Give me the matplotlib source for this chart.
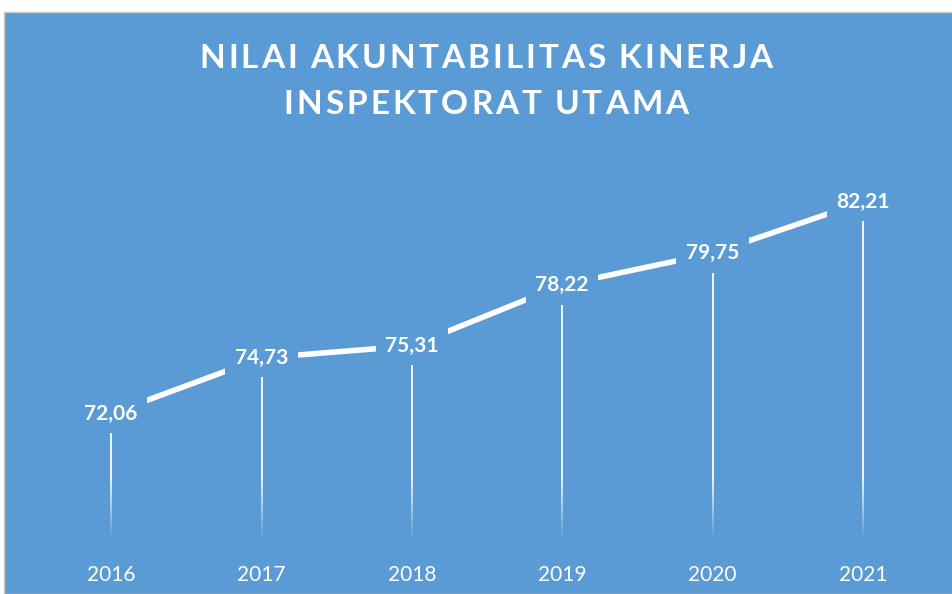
import numpy as np
import matplotlib
matplotlib.use("Agg")
import matplotlib.pyplot as plt
from matplotlib.patches import Rectangle

# data
years = ["2016", "2017", "2018", "2019", "2020", "2021"]
values = [72.06, 74.73, 75.31, 78.22, 79.75, 82.21]
labels = ["72,06", "74,73", "75,31", "78,22", "79,75", "82,21"]
title_lines = ["NILAI AKUNTABILITAS KINERJA", "INSPEKTORAT UTAMA"]

BLUE = "#5b9bd5"
W, H = 952, 594

plt.rcParams["font.family"] = ["Lato", "DejaVu Sans"]

fig = plt.figure(figsize=(W / 100, H / 100), dpi=100)
fig.patch.set_facecolor("white")

# blue chart area, offset slightly from the top-left like the screenshot
fig.patches.append(Rectangle((4 / W, 0), 1, (H - 12) / H, transform=fig.transFigure,
                             facecolor=BLUE, edgecolor="#c8c8c8", linewidth=1.0, zorder=-10))

ax = fig.add_axes([36 / W, (H - 540) / H, 902 / W, (540 - 164.6) / H])
ax.set_facecolor("none")
x = np.arange(len(years))
ymin, ymax = 66, 84
ax.set_xlim(-0.5, len(years) - 0.5)
ax.set_ylim(ymin, ymax)

# drop lines: white, fading out toward the bottom (gradient image per line)
half_w = 1.0 / 150.4  # ~1px each side in data units
for xi, v in zip(x, values):
    ys = np.linspace(ymin, v, 200)
    a = np.clip((ys - ymin) / 3.0, 0, 1) * 0.9
    img = np.ones((len(ys), 1, 4))
    img[:, 0, 3] = a
    ax.imshow(img, extent=(xi - half_w, xi + half_w, ymin, v), origin="lower",
              aspect="auto", interpolation="bilinear", zorder=2)

ax.set_xlim(-0.5, len(years) - 0.5)
ax.set_ylim(ymin, ymax)

ax.plot(x, values, color="white", linewidth=4.0, zorder=3, solid_capstyle="butt")

for xi, v, lab in zip(x, values, labels):
    ax.text(xi, v, lab, ha="center", va="center", color="white", fontsize=15,
            fontweight="bold", zorder=5,
            bbox=dict(boxstyle="square,pad=0.45", facecolor=BLUE, edgecolor="none"))

ax.set_xticks(x)
ax.set_xticklabels(years, color="white", fontsize=15)
ax.tick_params(axis="x", length=0, pad=18)
ax.set_yticks([])
for s in ax.spines.values():
    s.set_visible(False)


# title with letter spacing (char by char)
def spaced_text(s, cx, cy, size, track):
    r = fig.canvas.get_renderer()
    ws = []
    for ch in s:
        t = fig.text(0, 0, ch, fontsize=size, fontweight="bold")
        ws.append(t.get_window_extent(r).width if ch != " " else size * 0.28)
        t.remove()
    total = sum(ws) + track * (len(s) - 1)
    xpos = cx - total / 2
    for ch, w in zip(s, ws):
        fig.text(xpos / W, 1 - cy / H, ch, ha="left", va="center", color="white",
                 fontsize=size, fontweight="bold")
        xpos += w + track


spaced_text(title_lines[0], 486, 58, 24, 3.0)
spaced_text(title_lines[1], 486, 105, 24, 3.0)

fig.savefig("out.png", dpi=100)
